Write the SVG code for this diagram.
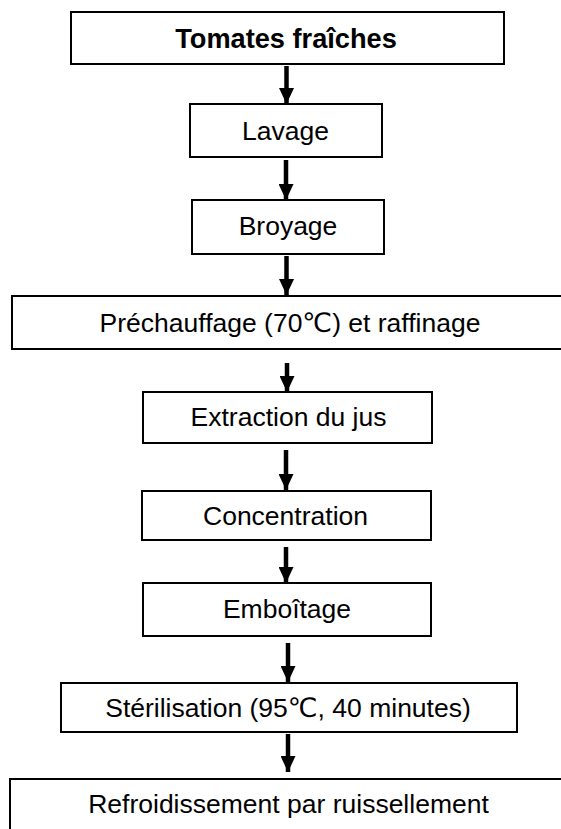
<svg xmlns="http://www.w3.org/2000/svg" width="561" height="829" viewBox="0 0 561 829">
<style>
.box{fill:#fff;stroke:#000;stroke-width:2}
.t{font-family:"Liberation Sans",Arial,"DejaVu Sans",sans-serif;font-size:26.5px;text-anchor:middle;fill:#000}
.b{font-weight:bold;font-size:27.2px}
.c{stroke:#000;stroke-width:4.5;fill:none}
</style>
<defs>
<marker id="ah" markerUnits="userSpaceOnUse" markerWidth="16" markerHeight="15" refX="16" refY="7.5" orient="auto">
<polygon points="0,0 16,7.5 0,15" fill="#000"/>
</marker>
</defs>
<rect width="561" height="829" fill="#fff"/>
<g id="n1"><rect class="box" x="71" y="12" width="433" height="52"/><text class="t b" x="286" y="48">Tomates fraîches</text></g>
<g id="n2"><rect class="box" x="190" y="104" width="192" height="53"/><text class="t" x="285.5" y="140">Lavage</text></g>
<g id="n3"><rect class="box" x="192" y="200" width="192" height="54"/><text class="t" x="288" y="235">Broyage</text></g>
<g id="n4"><rect class="box" x="12" y="296" width="570" height="53"/><text class="t" x="290" y="332">Préchauffage (70℃) et raffinage</text></g>
<g id="n5"><rect class="box" x="143" y="392" width="289" height="51"/><text class="t" x="288.5" y="426">Extraction du jus</text></g>
<g id="n6"><rect class="box" x="142" y="491" width="289" height="49"/><text class="t" x="285.5" y="525">Concentration</text></g>
<g id="n7"><rect class="box" x="143" y="583" width="288" height="53"/><text class="t" x="287" y="618">Emboîtage</text></g>
<g id="n8"><rect class="box" x="61" y="683" width="456" height="49"/><text class="t" x="288" y="717">Stérilisation (95℃, 40 minutes)</text></g>
<g id="n9"><rect class="box" x="10" y="779" width="570" height="70"/><text class="t" x="288.5" y="813">Refroidissement par ruissellement</text></g>
<g id="connectors">
<line class="c" x1="286.5" y1="66" x2="286.5" y2="104" marker-end="url(#ah)"/>
<line class="c" x1="286" y1="160" x2="286" y2="200" marker-end="url(#ah)"/>
<line class="c" x1="286.5" y1="256" x2="286.5" y2="295" marker-end="url(#ah)"/>
<line class="c" x1="287" y1="363" x2="287" y2="392" marker-end="url(#ah)"/>
<line class="c" x1="286" y1="450" x2="286" y2="490" marker-end="url(#ah)"/>
<line class="c" x1="286" y1="547" x2="286" y2="583" marker-end="url(#ah)"/>
<line class="c" x1="288" y1="643" x2="288" y2="682" marker-end="url(#ah)"/>
<line class="c" x1="288" y1="734" x2="288" y2="772" marker-end="url(#ah)"/>
</g>
</svg>
